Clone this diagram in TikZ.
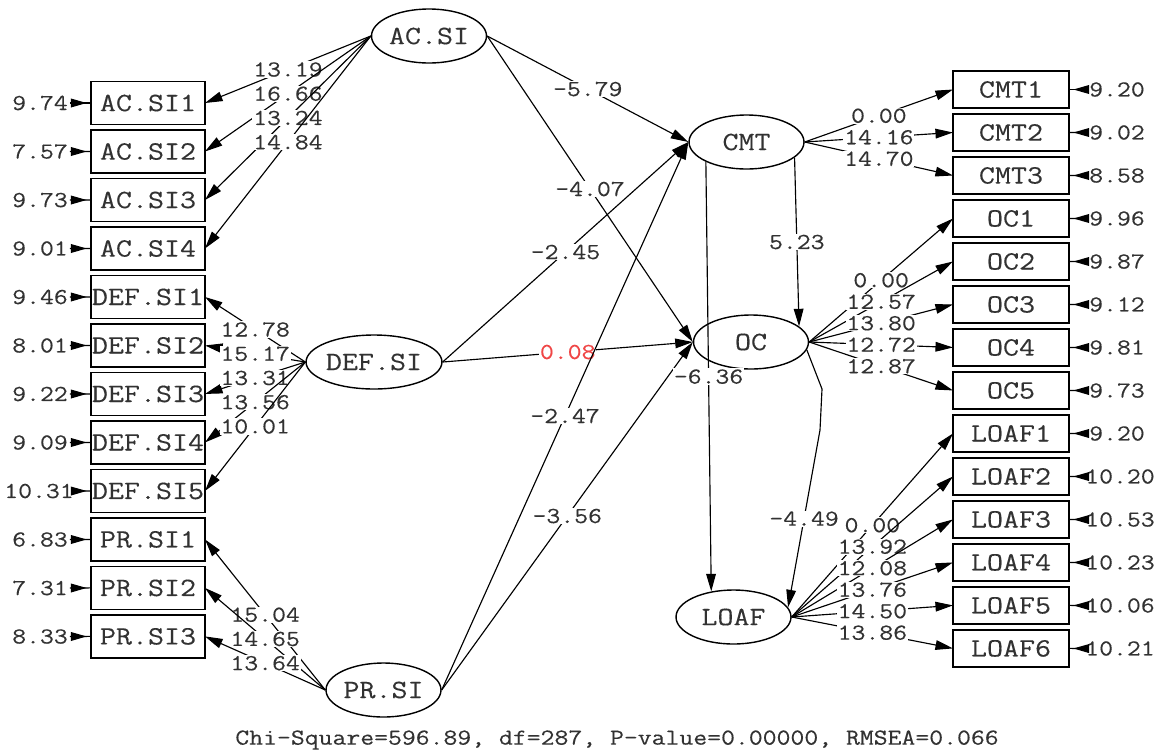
\documentclass[tikz,border=0pt]{standalone}
\usepackage{fontspec}
\usepackage{tikz}
\usetikzlibrary{arrows.meta,shapes.geometric,positioning,decorations.markings}
\usepackage{xcolor}
\newfontfamily\lisrelfont{Latin Modern Mono}[FakeStretch=1.18,FakeBold=0.25]
\newcommand\numfont{\lisrelfont\fontsize{13pt}{14pt}\selectfont}
\newcommand\namefont{\lisrelfont\fontsize{15pt}{16pt}\selectfont}
\definecolor{textgray}{RGB}{50,50,50}
\definecolor{valred}{RGB}{240,70,70}

\begin{document}
\begin{tikzpicture}[x=0.02cm, y=-0.02cm,
  lat/.style={ellipse, draw, line width=0.8pt, minimum width=2.3cm,
              minimum height=1.08cm, inner sep=0pt, font=\namefont, text=textgray},
  obs/.style={rectangle, draw, line width=0.9pt, minimum width=2.28cm,
              minimum height=0.86cm, inner sep=0pt, outer sep=0pt,
              font=\namefont, text=textgray},
  obsr/.style={obs, minimum width=2.32cm, minimum height=0.74cm},
  enum/.style={font=\numfont, inner sep=1pt, text=textgray},
  arr/.style={-{Triangle[length=10pt,width=5.5pt]}, line width=0.65pt},
  lab/.style={font=\numfont, fill=white, inner sep=0.5pt, midway, text=textgray},
  err/.style={line width=0.65pt, postaction={decorate},
              decoration={markings, mark=at position -2.5pt with
                {\arrow{Triangle[length=9pt,width=5pt]}}}},
]
\useasboundingbox (0,0) rectangle (1158,751);

% latent variables
\node[lat] (acsi)  at (429,36)    {AC.SI};
\node[lat] (defsi) at (374,362)   {DEF.SI};
\node[lat] (prsi)  at (383.5,690) {PR.SI};
\node[lat] (cmt)   at (746.5,142) {CMT};
\node[lat] (oc)    at (751,342)   {OC};
\node[lat] (loaf)  at (733.5,617) {LOAF};

% observed, left column
\node[obs] (acsi1) at (148,103) {AC.SI1};
\node[obs, below=0.11cm of acsi1]  (acsi2)  {AC.SI2};
\node[obs, below=0.11cm of acsi2]  (acsi3)  {AC.SI3};
\node[obs, below=0.11cm of acsi3]  (acsi4)  {AC.SI4};
\node[obs, below=0.11cm of acsi4]  (defsi1) {DEF.SI1};
\node[obs, below=0.11cm of defsi1] (defsi2) {DEF.SI2};
\node[obs, below=0.11cm of defsi2] (defsi3) {DEF.SI3};
\node[obs, below=0.11cm of defsi3] (defsi4) {DEF.SI4};
\node[obs, below=0.11cm of defsi4] (defsi5) {DEF.SI5};
\node[obs, below=0.11cm of defsi5] (prsi1)  {PR.SI1};
\node[obs, below=0.11cm of prsi1]  (prsi2)  {PR.SI2};
\node[obs, below=0.11cm of prsi2]  (prsi3)  {PR.SI3};

% observed, right column
\node[obsr] (cmt1) at (1011,89.5) {CMT1};
\node[obsr, below=0.12cm of cmt1]  (cmt2)  {CMT2};
\node[obsr, below=0.12cm of cmt2]  (cmt3)  {CMT3};
\node[obsr, below=0.12cm of cmt3]  (oc1)   {OC1};
\node[obsr, below=0.12cm of oc1]   (oc2)   {OC2};
\node[obsr, below=0.12cm of oc2]   (oc3)   {OC3};
\node[obsr, below=0.12cm of oc3]   (oc4)   {OC4};
\node[obsr, below=0.12cm of oc4]   (oc5)   {OC5};
\node[obsr, below=0.12cm of oc5]   (loaf1) {LOAF1};
\node[obsr, below=0.12cm of loaf1] (loaf2) {LOAF2};
\node[obsr, below=0.12cm of loaf2] (loaf3) {LOAF3};
\node[obsr, below=0.12cm of loaf3] (loaf4) {LOAF4};
\node[obsr, below=0.12cm of loaf4] (loaf5) {LOAF5};
\node[obsr, below=0.12cm of loaf5] (loaf6) {LOAF6};

% error variances, left
\node[enum] (ea1) at (40,103)   {9.74};
\node[enum] (ea2) at (40,151.5) {7.57};
\node[enum] (ea3) at (40,200)   {9.73};
\node[enum] (ea4) at (40,248.5) {9.01};
\node[enum] (ed1) at (40,297)   {9.46};
\node[enum] (ed2) at (40,345.5) {8.01};
\node[enum] (ed3) at (40,394)   {9.22};
\node[enum] (ed4) at (40,442.5) {9.09};
\node[enum] (ed5) at (39,491)   {10.31};
\node[enum] (ep1) at (40,539.5) {6.83};
\node[enum] (ep2) at (40,588)   {7.31};
\node[enum] (ep3) at (40,636.5) {8.33};
\foreach \e/\x in {ea1/acsi1,ea2/acsi2,ea3/acsi3,ea4/acsi4,ed1/defsi1,ed2/defsi2,
                   ed3/defsi3,ed4/defsi4,ed5/defsi5,ep1/prsi1,ep2/prsi2,ep3/prsi3}
  \draw[err] (\e.east) -- (\x.west);

% error variances, right
\node[enum] (ec1) at (1117,89.5)  {9.20};
\node[enum] (ec2) at (1117,132.5) {9.02};
\node[enum] (ec3) at (1117,175.5) {8.58};
\node[enum] (eo1) at (1117,218.5) {9.96};
\node[enum] (eo2) at (1117,261.5) {9.87};
\node[enum] (eo3) at (1117,304.5) {9.12};
\node[enum] (eo4) at (1117,347.5) {9.81};
\node[enum] (eo5) at (1117,390.5) {9.73};
\node[enum] (el1) at (1117,433.5) {9.20};
\node[enum] (el2) at (1120,476.5) {10.20};
\node[enum] (el3) at (1120,519.5) {10.53};
\node[enum] (el4) at (1120,562.5) {10.23};
\node[enum] (el5) at (1120,605.5) {10.06};
\node[enum] (el6) at (1120,648.5) {10.21};
\foreach \e/\x in {ec1/cmt1,ec2/cmt2,ec3/cmt3,eo1/oc1,eo2/oc2,eo3/oc3,eo4/oc4,eo5/oc5,
                   el1/loaf1,el2/loaf2,el3/loaf3,el4/loaf4,el5/loaf5,el6/loaf6}
  \draw[err] (\e.west) -- (\x.east);

% loadings
\draw[arr] (acsi.west) -- (acsi1.east) node[lab]{13.19};
\draw[arr] (acsi.west) -- (acsi2.east) node[lab]{16.66};
\draw[arr] (acsi.west) -- (acsi3.east) node[lab]{13.24};
\draw[arr] (acsi.west) -- (acsi4.east) node[lab]{14.84};
\draw[arr] (defsi.west) -- (defsi1.east) node[lab]{12.78};
\draw[arr] (defsi.west) -- (defsi2.east) node[lab]{15.17};
\draw[arr] (defsi.west) -- (defsi3.east) node[lab]{13.31};
\draw[arr] (defsi.west) -- (defsi4.east) node[lab]{13.56};
\draw[arr] (defsi.west) -- (defsi5.east) node[lab]{10.01};
\draw[arr] (prsi.west) -- (prsi1.east) node[lab]{15.04};
\draw[arr] (prsi.west) -- (prsi2.east) node[lab]{14.65};
\draw[arr] (prsi.west) -- (prsi3.east) node[lab]{13.64};
\draw[arr] (cmt.east) -- (cmt1.west) node[lab]{0.00};
\draw[arr] (cmt.east) -- (cmt2.west) node[lab]{14.16};
\draw[arr] (cmt.east) -- (cmt3.west) node[lab]{14.70};
\draw[arr] (oc.east) -- (oc1.west) node[lab]{0.00};
\draw[arr] (oc.east) -- (oc2.west) node[lab]{12.57};
\draw[arr] (oc.east) -- (oc3.west) node[lab]{13.80};
\draw[arr] (oc.east) -- (oc4.west) node[lab]{12.72};
\draw[arr] (oc.east) -- (oc5.west) node[lab]{12.87};
\draw[arr] (loaf.east) -- (loaf1.west) node[lab]{0.00};
\draw[arr] (loaf.east) -- (loaf2.west) node[lab]{13.92};
\draw[arr] (loaf.east) -- (loaf3.west) node[lab]{12.08};
\draw[arr] (loaf.east) -- (loaf4.west) node[lab]{13.76};
\draw[arr] (loaf.east) -- (loaf5.west) node[lab]{14.50};
\draw[arr] (loaf.east) -- (loaf6.west) node[lab]{13.86};

% structural paths
\draw[arr] (acsi.east)  -- (cmt.west) node[lab]{-5.79};
\draw[arr] (acsi.east)  -- (oc.west)  node[lab]{-4.07};
\draw[arr] (defsi.east) -- (cmt.west) node[lab]{-2.45};
\draw[arr] (defsi.east) -- (oc.west)  node[lab, text=valred]{0.08};
\draw[arr] (prsi.east)  -- (cmt.west) node[lab]{-2.47};
\draw[arr] (prsi.east)  -- (oc.west)  node[lab]{-3.56};
\draw[arr] (cmt.-18)  -- (oc.18)    node[lab]{5.23};
\draw[arr] (cmt.206)  -- (loaf.131) node[lab]{-6.36};
\draw[arr] (oc.-8) -- (822,389) -- (820,430) -- (loaf.10) node[lab]{-4.49};

\node[enum] (fitline) at (617,740)
  {Chi-Square=596.89, df=287, P-value=0.00000, RMSEA=0.066};
\end{tikzpicture}
\end{document}
